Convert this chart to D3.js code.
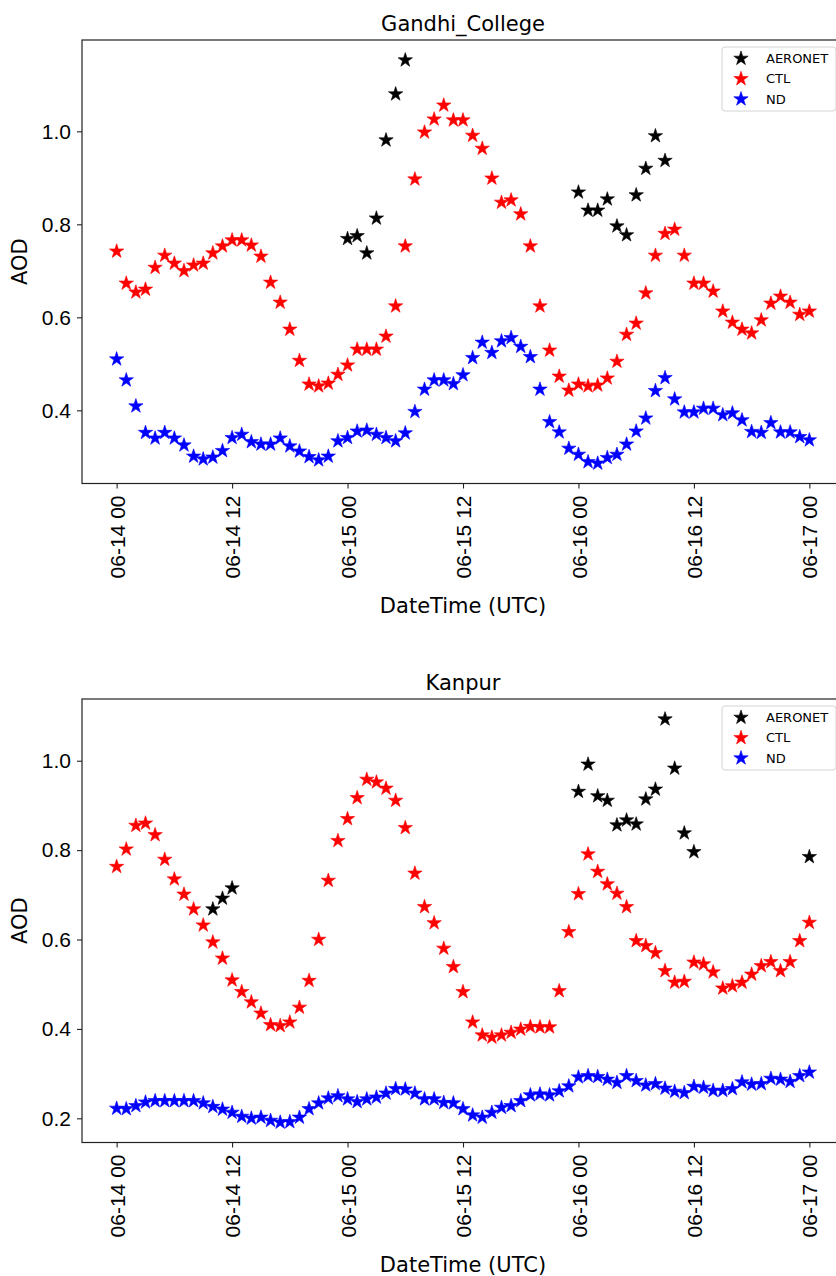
<!DOCTYPE html>
<html>
<head>
<meta charset="utf-8">
<script src="https://cdn.jsdelivr.net/npm/d3@7"></script>
<style>
  html, body { margin: 0; padding: 0; background: #fff; }
  svg { display: block; font-family: "DejaVu Sans", sans-serif; }
</style>
</head>
<body>
<svg id="chart" width="836" height="1276"></svg>
<script>
// Hourly model AOD from 06-14 00 UTC to 06-17 00 UTC (73 steps)
const startTime = new Date(Date.UTC(2018, 5, 14, 0));
const tickLabels = ["06-14 00", "06-14 12", "06-15 00", "06-15 12", "06-16 00", "06-16 12", "06-17 00"];
const tickHours = [0, 12, 24, 36, 48, 60, 72];
const yTicksGandhi = [0.4, 0.6, 0.8, 1.0];
const yTicksKanpur = [0.2, 0.4, 0.6, 0.8, 1.0];

const gandhiCTL = [
  0.742, 0.673, 0.654, 0.660, 0.707, 0.733, 0.716, 0.700, 0.712, 0.716,
  0.738, 0.753, 0.766, 0.766, 0.755, 0.731, 0.675, 0.632, 0.574, 0.507,
  0.456, 0.452, 0.458, 0.477, 0.497, 0.531, 0.531, 0.531, 0.559, 0.624,
  0.753, 0.897, 0.998, 1.026, 1.056, 1.024, 1.024, 0.991, 0.963, 0.899,
  0.847, 0.852, 0.822, 0.753, 0.624, 0.529, 0.473, 0.443, 0.456, 0.452,
  0.454, 0.469, 0.505, 0.563, 0.587, 0.652, 0.733, 0.780, 0.789, 0.733,
  0.673, 0.673, 0.656, 0.613, 0.589, 0.574, 0.566, 0.594, 0.630, 0.645,
  0.632, 0.606, 0.613
];
const gandhiND = [
  0.510, 0.465, 0.409, 0.352, 0.340, 0.352, 0.340, 0.325, 0.301, 0.295,
  0.299, 0.313, 0.341, 0.348, 0.332, 0.327, 0.327, 0.340, 0.323, 0.312,
  0.300, 0.293, 0.301, 0.334, 0.341, 0.355, 0.357, 0.348, 0.341, 0.334,
  0.351, 0.397, 0.445, 0.465, 0.465, 0.457, 0.476, 0.513, 0.546, 0.524,
  0.549, 0.556, 0.537, 0.515, 0.445, 0.375, 0.353, 0.318, 0.305, 0.289,
  0.286, 0.298, 0.305, 0.327, 0.355, 0.383, 0.442, 0.470, 0.424, 0.396,
  0.396, 0.404, 0.404, 0.390, 0.394, 0.379, 0.354, 0.352, 0.373, 0.353,
  0.353, 0.343, 0.336
];
const gandhiAeronetHours = [24, 25, 26, 27, 28, 29, 30, 48, 49, 50, 51, 52, 53, 54, 55, 56, 57];
const gandhiAeronet = [0.769, 0.775, 0.738, 0.813, 0.981, 1.080, 1.153,
  0.869, 0.830, 0.830, 0.854, 0.796, 0.777, 0.863, 0.920, 0.990, 0.937];

const kanpurCTL = [
  0.763, 0.802, 0.855, 0.860, 0.834, 0.779, 0.735, 0.701, 0.668, 0.632,
  0.594, 0.558, 0.509, 0.483, 0.460, 0.435, 0.409, 0.407, 0.415, 0.448,
  0.508, 0.600, 0.732, 0.821, 0.870, 0.917, 0.958, 0.952, 0.938, 0.911,
  0.850, 0.748, 0.673, 0.637, 0.580, 0.539, 0.483, 0.415, 0.386, 0.381,
  0.386, 0.392, 0.399, 0.405, 0.404, 0.404, 0.485, 0.617, 0.702, 0.791,
  0.752, 0.724, 0.703, 0.673, 0.597, 0.586, 0.570, 0.530, 0.504, 0.506,
  0.549, 0.545, 0.527, 0.491, 0.496, 0.504, 0.522, 0.541, 0.550, 0.530,
  0.550, 0.597, 0.638
];
const kanpurND = [
  0.222, 0.221, 0.228, 0.236, 0.239, 0.239, 0.239, 0.239, 0.239, 0.234,
  0.226, 0.220, 0.213, 0.204, 0.200, 0.202, 0.195, 0.191, 0.192, 0.202,
  0.221, 0.234, 0.245, 0.250, 0.243, 0.237, 0.243, 0.247, 0.256, 0.266,
  0.265, 0.256, 0.243, 0.243, 0.235, 0.234, 0.221, 0.207, 0.202, 0.213,
  0.224, 0.228, 0.239, 0.252, 0.254, 0.252, 0.261, 0.272, 0.292, 0.295,
  0.293, 0.287, 0.280, 0.295, 0.284, 0.274, 0.277, 0.267, 0.260, 0.257,
  0.271, 0.269, 0.262, 0.262, 0.266, 0.281, 0.276, 0.277, 0.289, 0.287,
  0.282, 0.295, 0.303
];
const kanpurAeronetHours = [10, 11, 12, 48, 49, 50, 51, 52, 53, 54, 55, 56, 57, 58, 59, 60, 72];
const kanpurAeronet = [0.668, 0.692, 0.715,
  0.931, 0.992, 0.921, 0.911, 0.856, 0.867, 0.858, 0.914, 0.936, 1.093, 0.983, 0.838, 0.796, 0.785];

const seriesNames = ["AERONET", "CTL", "ND"];
const seriesColors = { AERONET: "#000000", CTL: "#ff0000", ND: "#0000ff" };

const svg = d3.select("#chart");
const hourToDate = h => d3.utcHour.offset(startTime, h);
const star = d3.symbol().type(d3.symbolStar).size(64);

function withMargin(lo, hi, frac) {
  const pad = (hi - lo) * frac;
  return [lo - pad, hi + pad];
}

function drawPanel(cfg) {
  const { title, top, bottom, left, right, ctl, nd, aerHours, aer, yTicks } = cfg;
  const g = svg.append("g");

  const t0 = hourToDate(0), t1 = hourToDate(72);
  const span = (t1 - t0) * 0.05;
  const x = d3.scaleUtc()
    .domain([new Date(+t0 - span), new Date(+t1 + span)])
    .range([left, right]);

  const all = ctl.concat(nd, aer);
  const y = d3.scaleLinear()
    .domain(withMargin(d3.min(all), d3.max(all), 0.05))
    .range([bottom, top]);

  // clip marks to the axes box
  const clipId = "clip-" + title;
  svg.append("clipPath").attr("id", clipId)
    .append("rect").attr("x", left).attr("y", top)
    .attr("width", right - left).attr("height", bottom - top);

  // axes frame
  g.append("rect")
    .attr("x", left).attr("y", top)
    .attr("width", right - left).attr("height", bottom - top)
    .attr("fill", "none").attr("stroke", "#222").attr("stroke-width", 1.2);

  // x axis
  const xAxis = d3.axisBottom(x)
    .tickValues(tickHours.map(hourToDate))
    .tickFormat((d, i) => tickLabels[i])
    .tickSize(5).tickPadding(6);
  const gx = g.append("g").attr("transform", `translate(0,${bottom})`).call(xAxis);
  gx.select(".domain").remove();
  gx.selectAll(".tick line").attr("stroke", "#222").attr("stroke-width", 1.1);
  gx.selectAll(".tick text")
    .attr("font-size", 21).attr("fill", "#000")
    .attr("text-anchor", "end")
    .attr("transform", "rotate(-90)")
    .attr("x", -(5 + 7)).attr("y", 0).attr("dy", "0.36em");

  // y axis
  const yAxis = d3.axisLeft(y).tickValues(yTicks).tickFormat(d3.format(".1f"))
    .tickSize(5).tickPadding(6);
  const gy = g.append("g").attr("transform", `translate(${left},0)`).call(yAxis);
  gy.select(".domain").remove();
  gy.selectAll(".tick line").attr("stroke", "#222").attr("stroke-width", 1.1);
  gy.selectAll(".tick text").attr("font-size", 21).attr("fill", "#000");

  // titles
  g.append("text").attr("x", (left + right) / 2).attr("y", top - 9)
    .attr("text-anchor", "middle").attr("font-size", 21).text(title);
  g.append("text").attr("x", (left + right) / 2).attr("y", bottom + 129)
    .attr("text-anchor", "middle").attr("font-size", 21).text("DateTime (UTC)");
  g.append("text")
    .attr("transform", `translate(27,${(top + bottom) / 2}) rotate(-90)`)
    .attr("text-anchor", "middle").attr("font-size", 21).text("AOD");

  // markers
  const marks = g.append("g").attr("clip-path", `url(#${clipId})`);
  const plot = (hours, vals, color) => {
    marks.append("g").selectAll("path")
      .data(vals.map((v, i) => ({ h: hours ? hours[i] : i, v })))
      .join("path")
      .attr("d", star)
      .attr("transform", d => `translate(${x(hourToDate(d.h))},${y(d.v)})`)
      .attr("fill", color).attr("stroke", color).attr("stroke-width", 0.6);
  };
  plot(aerHours, aer, seriesColors.AERONET);
  plot(null, ctl, seriesColors.CTL);
  plot(null, nd, seriesColors.ND);

  // legend
  const lg = g.append("g").attr("transform", `translate(${722},${top + 7})`);
  lg.append("rect").attr("x", 0).attr("y", 0).attr("width", 114).attr("height", 64)
    .attr("rx", 3).attr("fill", "#fff").attr("fill-opacity", 0.8)
    .attr("stroke", "#d4d4d4").attr("stroke-width", 1);
  seriesNames.forEach((name, i) => {
    const cy = 11.5 + i * 20.3;
    lg.append("path").attr("d", star)
      .attr("transform", `translate(19,${cy})`)
      .attr("fill", seriesColors[name]).attr("stroke", seriesColors[name]).attr("stroke-width", 0.6);
    lg.append("text").attr("x", 44).attr("y", cy).attr("dy", "0.36em")
      .attr("font-size", 13).text(name);
  });
}

drawPanel({
  title: "Gandhi_College", top: 40, bottom: 483.5, left: 82, right: 844,
  ctl: gandhiCTL, nd: gandhiND, aerHours: gandhiAeronetHours, aer: gandhiAeronet,
  yTicks: yTicksGandhi
});
drawPanel({
  title: "Kanpur", top: 699, bottom: 1142.5, left: 82, right: 844,
  ctl: kanpurCTL, nd: kanpurND, aerHours: kanpurAeronetHours, aer: kanpurAeronet,
  yTicks: yTicksKanpur
});
</script>
</body>
</html>
